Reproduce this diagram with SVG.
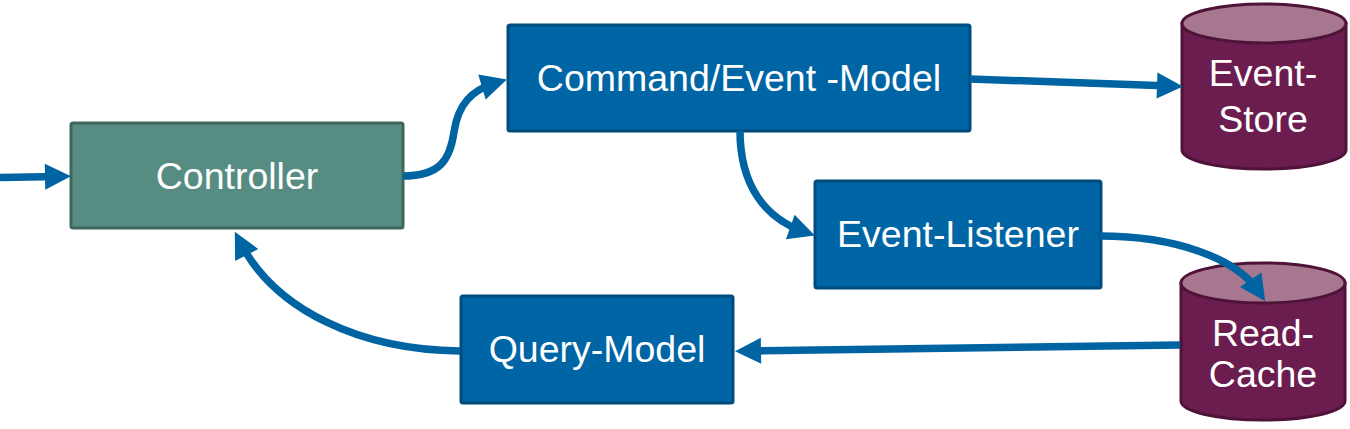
<svg xmlns="http://www.w3.org/2000/svg" width="1350" height="429" viewBox="0 0 1350 429">
  <style>
    .blue { fill: #0065A4; stroke: #004C7E; stroke-width: 3; }
    .teal { fill: #568C82; stroke: #3E665F; stroke-width: 3; }
    .cylbody { fill: #6C1D4F; stroke: #4F1339; stroke-width: 3; }
    .cyltop { fill: #A7768F; stroke: #4F1339; stroke-width: 3; }
    .label { font-family: "Liberation Sans", Arial, sans-serif; font-size: 37.5px; fill: #FFFFFF; text-anchor: middle; }
    .conn { fill: none; stroke: #0064A3; stroke-width: 7.5; marker-end: url(#arrow); }
  </style>
  <defs>
    <marker id="arrow" markerUnits="userSpaceOnUse" markerWidth="26" markerHeight="26" refX="14" refY="13" orient="auto" overflow="visible">
      <path d="M0,0 L26,13 L0,26 Z" fill="#0064A3"/>
    </marker>
  </defs>

  <g id="controller">
    <rect class="teal" x="71" y="123" width="332" height="105" rx="2"/>
    <text class="label" x="237" y="189">Controller</text>
  </g>

  <g id="command-event-model">
    <rect class="blue" x="508" y="25" width="462" height="106" rx="2"/>
    <text class="label" x="739" y="91">Command/Event -Model</text>
  </g>

  <g id="event-listener">
    <rect class="blue" x="815" y="181" width="286" height="107" rx="2"/>
    <text class="label" x="958" y="247">Event-Listener</text>
  </g>

  <g id="query-model">
    <rect class="blue" x="461" y="296" width="272" height="107" rx="2"/>
    <text class="label" x="597" y="362">Query-Model</text>
  </g>

  <g id="event-store">
    <path class="cylbody" d="M1182,23.5 L1182,150 A82,19 0 0 0 1346,150 L1346,23.5 Z"/>
    <ellipse class="cyltop" cx="1264" cy="23.5" rx="82" ry="19.5"/>
    <text class="label" x="1263" y="86">Event-</text>
    <text class="label" x="1263" y="132">Store</text>
  </g>

  <g id="read-cache">
    <path class="cylbody" d="M1181,283 L1181,401 A82,19 0 0 0 1345,401 L1345,283 Z"/>
    <ellipse class="cyltop" cx="1263" cy="283" rx="82" ry="20"/>
    <text class="label" x="1263" y="346">Read-</text>
    <text class="label" x="1263" y="387">Cache</text>
  </g>

  <g id="connectors">
    <path class="conn" d="M0,177.5 L59,176.5"/>
    <path class="conn" d="M403,176 C440,176 450,160 454,132 C458,104 472,90 495.4,83"/>
    <path class="conn" d="M970,79 L1171,86"/>
    <path class="conn" d="M740,131 C740,185 765,218 803.5,231.6"/>
    <path class="conn" d="M1100,236 C1175,236 1236,258 1258.5,291.4"/>
    <path class="conn" d="M1180,345 L747,351"/>
    <path class="conn" d="M460,351 C360,350 275,310 240.3,242.5"/>
  </g>
</svg>
